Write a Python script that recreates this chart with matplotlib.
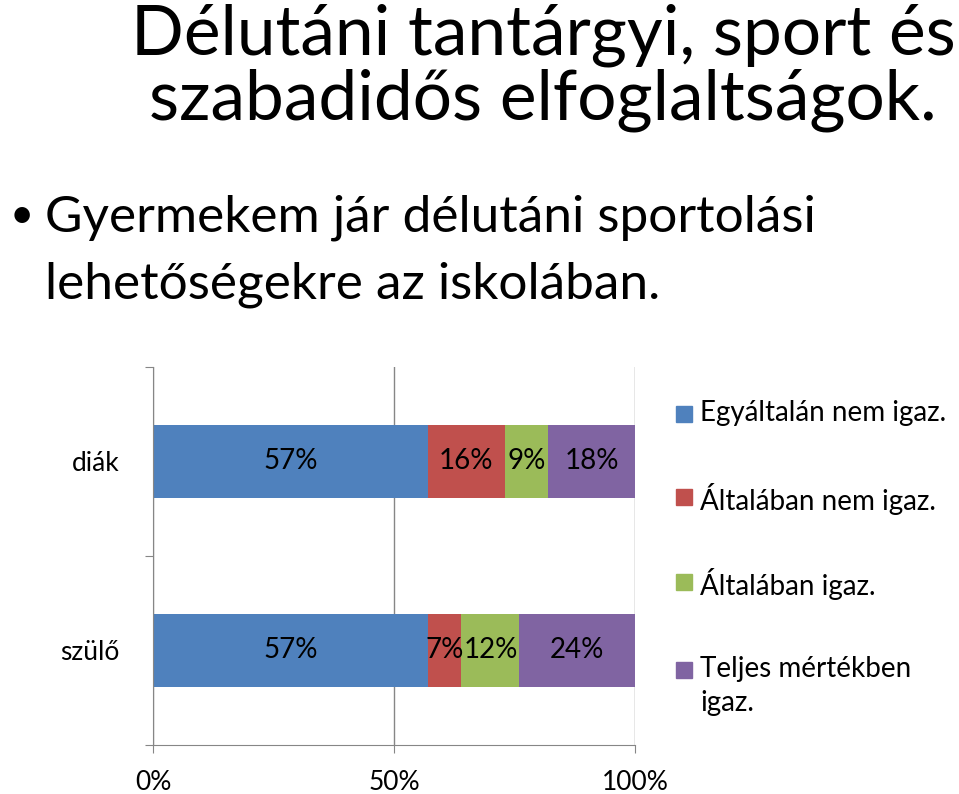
import matplotlib
matplotlib.use('Agg')
import matplotlib.pyplot as plt
from matplotlib.patches import Rectangle
import numpy as np

# adatok
kategoriak = ['diák', 'szülő']
sorozatok = ['Egyáltalán nem igaz.', 'Általában nem igaz.', 'Általában igaz.', 'Teljes mértékben\nigaz.']
diak = [57, 16, 9, 18]
szulo = [57, 7, 12, 24]
szinek = ['#4F81BD', '#C0504D', '#9BBB59', '#8064A2']
x_ticks = [0, 50, 100]
x_labels = ['0%', '50%', '100%']

plt.rcParams['font.family'] = ['Lato', 'DejaVu Sans']

W, H = 959, 794
fig = plt.figure(figsize=(W / 100, H / 100), dpi=100)
ax = fig.add_axes([153 / W, 1 - 745 / H, 482 / W, 378 / H])

ertekek = np.array([diak, szulo])
y = np.arange(len(kategoriak))
bal = np.zeros(len(kategoriak))
for i, nev in enumerate(sorozatok):
    ax.barh(y, ertekek[:, i], left=bal, height=0.39, color=szinek[i], label=nev, zorder=2)
    for j in range(len(kategoriak)):
        ax.text(bal[j] + ertekek[j, i] / 2, y[j], f'{ertekek[j, i]}%', ha='center', va='center',
                fontsize=20, color='black', zorder=3)
    bal += ertekek[:, i]

ax.set_xlim(0, 100)
ax.set_ylim(1.5, -0.5)
ax.set_xticks(x_ticks)
ax.set_xticklabels(x_labels, fontsize=19)
ax.set_yticks([-0.5, 0.5, 1.5])
ax.set_yticklabels([])
ax.set_yticks(y, minor=True)
ax.set_yticklabels(kategoriak, minor=True, fontsize=19)
ax.tick_params(axis='y', which='major', length=6, color='#868686', direction='out')
ax.tick_params(axis='y', which='minor', length=0, pad=24)
ax.tick_params(axis='x', length=6, color='#868686', pad=12)
ax.grid(axis='x', color='#868686', linewidth=1, zorder=1)
for s in ['top', 'right']:
    ax.spines[s].set_visible(False)
for s in ['left', 'bottom']:
    ax.spines[s].set_color('#868686')

# jelmagyarázat kézzel (a négyzet az első sorhoz igazodik)
leg_y = [414, 497, 582, 670]
for nev, szin, ly in zip(sorozatok, szinek, leg_y):
    fig.add_artist(Rectangle((676 / W, 1 - (ly + 8) / H), 16 / W, 16 / H,
                             transform=fig.transFigure, color=szin))
    fig.text(700 / W, 1 - (ly - 14) / H, nev, ha='left', va='top', fontsize=20, linespacing=1.4)

# cím és felsorolás
fig.text(543 / W, 1 - 35 / H, 'Délutáni tantárgyi, sport és', ha='center', va='center', fontsize=50)
fig.text(543 / W, 1 - 100 / H, 'szabadidős elfoglaltságok.', ha='center', va='center', fontsize=50)
fig.text(10 / W, 1 - 216 / H, '•', ha='left', va='center', fontsize=30)
fig.text(45 / W, 1 - 218 / H, 'Gyermekem jár délutáni sportolási', ha='left', va='center', fontsize=37)
fig.text(45 / W, 1 - 285 / H, 'lehetőségekre az iskolában.', ha='left', va='center', fontsize=37)

fig.savefig('out.png', dpi=100)
